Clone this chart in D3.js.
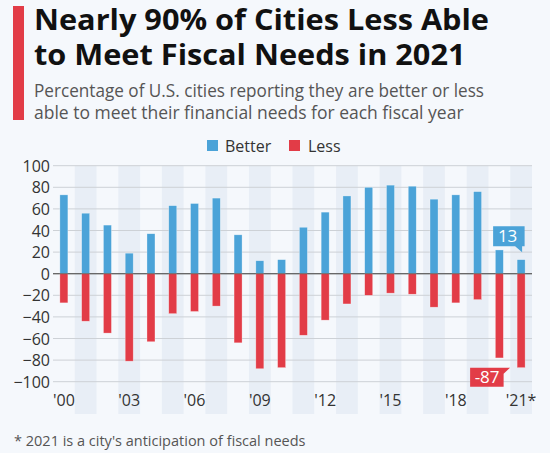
<!DOCTYPE html>
<html><head><meta charset="utf-8">
<script src="https://cdn.jsdelivr.net/npm/d3@7"></script>
<style>
html,body{margin:0;padding:0;background:#f5f8fc;}
svg{display:block;font-family:"Open Sans",sans-serif;}
</style></head>
<body>
<svg id="c" width="550" height="453"></svg>
<script>
const years = ["2000","2001","2002","2003","2004","2005","2006","2007","2008","2009","2010","2011","2012","2013","2014","2015","2016","2017","2018","2019","2020","2021"];
const better = [73,56,45,19,37,63,65,70,36,12,13,43,57,72,80,82,81,69,73,76,22,13];
const less = [-27,-44,-55,-81,-63,-37,-35,-30,-64,-88,-87,-57,-43,-28,-20,-18,-19,-31,-27,-24,-78,-87];
const xTickLabels = {"2000":"'00","2003":"'03","2006":"'06","2009":"'09","2012":"'12","2015":"'15","2018":"'18","2021":"'21*"};
const yTicks = [100,80,60,40,20,0,-20,-40,-60,-80,-100];
const seriesNames = ["Better","Less"];
const colors = {Better:"#4ba3d8", Less:"#e23c47"};

const svg = d3.select("#c");
const W=550,H=453;
svg.append("rect").attr("width",W).attr("height",H).attr("fill","#f5f8fc");

// title block
svg.append("rect").attr("x",13).attr("y",6).attr("width",11).attr("height",114).attr("fill","#e23c47");
const t1 = svg.append("text").attr("x",34).attr("y",29.5).attr("font-size",28.5).attr("font-weight",700).attr("fill","#111").text("Nearly 90% of Cities Less Able");
const t2 = svg.append("text").attr("x",34).attr("y",64.5).attr("font-size",28.5).attr("font-weight",700).attr("fill","#111").text("to Meet Fiscal Needs in 2021");
const s1 = svg.append("text").attr("x",34).attr("y",97).attr("font-size",17.5).attr("fill","#555").text("Percentage of U.S. cities reporting they are better or less");
const s2 = svg.append("text").attr("x",34).attr("y",119).attr("font-size",17.5).attr("fill","#555").text("able to meet their financial needs for each fiscal year");

function fit(sel, w){ const n = sel.node().getComputedTextLength(); if (Math.abs(n-w)>2) sel.attr("textLength",w).attr("lengthAdjust","spacingAndGlyphs"); }
const r = 455/t1.node().getComputedTextLength();
const t2w = t2.node().getComputedTextLength()*r;
fit(t1,455); fit(t2,t2w); fit(s1,450);

// legend
const lg = svg.append("g");
lg.append("rect").attr("x",207).attr("y",140).attr("width",11).attr("height",11).attr("fill",colors.Better);
lg.append("text").attr("x",225).attr("y",151.5).attr("font-size",16).attr("fill","#333").text("Better");
lg.append("rect").attr("x",289).attr("y",140).attr("width",11).attr("height",11).attr("fill",colors.Less);
lg.append("text").attr("x",308).attr("y",151.5).attr("font-size",16).attr("fill","#333").text("Less");

// scales
const x = d3.scaleBand().domain(years).range([53,532]);
const y = d3.scaleLinear().domain([-100,100]).range([381.7,165.7]);

// shaded bands
svg.append("g").selectAll("rect").data(years.filter((d,i)=>i%2===1)).join("rect")
  .attr("x",d=>x(d)).attr("width",x.bandwidth()).attr("y",y(100)).attr("height",414-y(100)).attr("fill","#e8eef6");

// gridlines
svg.append("g").selectAll("line").data(yTicks).join("line")
  .attr("x1",53).attr("x2",532).attr("y1",d=>y(d)).attr("y2",d=>y(d))
  .attr("stroke",d=>d===0?"#777":"#cdd1d6").attr("stroke-width",d=>d===0?1.2:1);

// y axis labels
const yAxis = d3.axisLeft(y).tickValues(yTicks).tickSize(0).tickPadding(0);
const ya = svg.append("g").attr("transform","translate(50,0)").call(yAxis);
ya.select(".domain").remove();
ya.selectAll("text").attr("font-size",16).attr("fill","#333").attr("font-family","Open Sans, sans-serif").attr("dy","0.35em");

// x axis labels
const xAxis = d3.axisBottom(x).tickValues(Object.keys(xTickLabels)).tickFormat(d=>xTickLabels[d]).tickSize(0).tickPadding(0);
const xa = svg.append("g").attr("transform","translate(0,395)").call(xAxis);
xa.select(".domain").remove();
xa.selectAll("text").attr("font-size",16).attr("fill","#333").attr("font-family","Open Sans, sans-serif");

// bars
const bw = 8;
svg.append("g").selectAll("rect").data(years.map((d,i)=>({year:d,v:better[i]}))).join("rect")
  .attr("x",d=>x(d.year)+x.bandwidth()/2-bw/2).attr("width",bw)
  .attr("y",d=>y(d.v)).attr("height",d=>y(0)-y(d.v)).attr("fill",colors.Better)
  .attr("stroke","#ffffff").attr("stroke-opacity",0.5).attr("stroke-width",0.6);
svg.append("g").selectAll("rect").data(years.map((d,i)=>({year:d,v:less[i]}))).join("rect")
  .attr("x",d=>x(d.year)+x.bandwidth()/2-bw/2).attr("width",bw)
  .attr("y",y(0)).attr("height",d=>y(d.v)-y(0)).attr("fill",colors.Less)
  .attr("stroke","#ffffff").attr("stroke-opacity",0.5).attr("stroke-width",0.6);
// redraw zero line on top
svg.append("line").attr("x1",53).attr("x2",532).attr("y1",y(0)).attr("y2",y(0)).attr("stroke","#666").attr("stroke-width",1);

// callouts
const li = years.length-1;
const cx = x(years[li])+x.bandwidth()/2;
const bTop = y(better[li]);
const g1 = svg.append("g");
g1.append("path").attr("d",`M${cx-28},${bTop-33.5} H${cx+3.5} V${bTop-13.5} H${cx+1} L${cx+1},${bTop-7.5} L${cx-6},${bTop-13.5} H${cx-28} Z`).attr("fill",colors.Better);
g1.append("text").attr("x",cx-13.5).attr("y",bTop-18).attr("text-anchor","middle").attr("font-size",17).attr("fill","#fff").text(better[li]);
const lBot = y(less[li]);
const g2 = svg.append("g");
g2.append("path").attr("d",`M${cx-51},${lBot} H${cx-11} L${cx-17.5},${lBot+6} V${lBot+19} H${cx-51} Z`).attr("fill",colors.Less);
g2.append("text").attr("x",cx-34).attr("y",lBot+15.5).attr("text-anchor","middle").attr("font-size",17).attr("fill","#fff").text(less[li]);

// footnote
svg.append("text").attr("x",14).attr("y",446).attr("font-size",14.5).attr("fill","#555").text("* 2021 is a city's anticipation of fiscal needs");
</script>
</body></html>
